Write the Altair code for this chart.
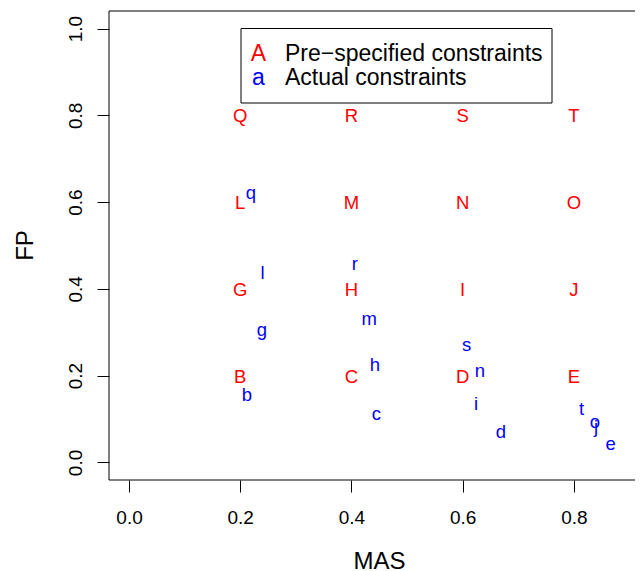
import altair as alt
import pandas as pd

# Pre-specified constraints (red, uppercase)
pre_labels = ["B", "C", "D", "E", "G", "H", "I", "J", "L", "M", "N", "O", "Q", "R", "S", "T"]
pre_mas = [0.2, 0.4, 0.6, 0.8, 0.2, 0.4, 0.6, 0.8, 0.2, 0.4, 0.6, 0.8, 0.2, 0.4, 0.6, 0.8]
pre_fp = [0.2, 0.2, 0.2, 0.2, 0.4, 0.4, 0.4, 0.4, 0.6, 0.6, 0.6, 0.6, 0.8, 0.8, 0.8, 0.8]

# Actual constraints (blue, lowercase)
act_labels = ["b", "c", "d", "e", "g", "h", "i", "j", "l", "m", "n", "o", "q", "r", "s", "t"]
act_mas = [0.212, 0.445, 0.669, 0.866, 0.239, 0.442, 0.624, 0.840, 0.240, 0.432, 0.631, 0.838, 0.219, 0.406, 0.607, 0.814]
act_fp = [0.157, 0.113, 0.072, 0.045, 0.307, 0.228, 0.136, 0.085, 0.440, 0.334, 0.214, 0.095, 0.624, 0.459, 0.274, 0.125]

x_ticks = [0.0, 0.2, 0.4, 0.6, 0.8]
y_ticks = [0.0, 0.2, 0.4, 0.6, 0.8, 1.0]

FONT = "Liberation Sans"
W, H = 526, 469

pre_df = pd.DataFrame({"MAS": pre_mas, "FP": pre_fp, "lab": pre_labels})
act_df = pd.DataFrame({"MAS": act_mas, "FP": act_fp, "lab": act_labels})

xscale = alt.Scale(domain=[-0.036, 0.910], nice=False, zero=False)
yscale = alt.Scale(domain=[-0.0405, 1.0405], nice=False, zero=False)

xaxis = alt.Axis(values=x_ticks, format=".1f", tickSize=12, tickColor="black", tickWidth=1,
                 labelPadding=31, labelBaseline="alphabetic", labelFontSize=19, labelFont=FONT,
                 labelColor="black", domain=False, grid=False, title="MAS", titleFont=FONT,
                 titleFontSize=24, titleFontWeight="normal", titleColor="black",
                 titleX=270, titleY=88, titleAlign="center", titleBaseline="alphabetic", titleAngle=0)
yaxis = alt.Axis(values=y_ticks, format=".1f", tickSize=12, tickColor="black", tickWidth=1,
                 labelPadding=16, labelAngle=270, labelAlign="center", labelBaseline="alphabetic",
                 labelFontSize=19, labelFont=FONT, labelColor="black", domain=False, grid=False,
                 title="FP", titleFont=FONT, titleFontSize=24, titleFontWeight="normal",
                 titleColor="black", titleX=-77, titleY=234, titleAlign="center",
                 titleBaseline="alphabetic", titleAngle=270)

pre = alt.Chart(pre_df).mark_text(font=FONT, fontSize=18.5, color="#FF0000", align="center",
                                  baseline="alphabetic", dy=7).encode(
    x=alt.X("MAS:Q", scale=xscale, axis=xaxis),
    y=alt.Y("FP:Q", scale=yscale, axis=yaxis),
    text="lab:N",
)
act = alt.Chart(act_df).mark_text(font=FONT, fontSize=18.5, color="#0000FF", align="center",
                                  baseline="alphabetic", dy=7).encode(
    x=alt.X("MAS:Q", scale=xscale),
    y=alt.Y("FP:Q", scale=yscale),
    text="lab:N",
)

blank = alt.Data(values=[{}])
box_left = alt.Chart(blank).mark_rule(color="black", strokeWidth=1).encode(
    x=alt.value(0), y=alt.value(0), y2=alt.value(H))
box_top = alt.Chart(blank).mark_rule(color="black", strokeWidth=1).encode(
    x=alt.value(0), x2=alt.value(W), y=alt.value(0))
box_bottom = alt.Chart(blank).mark_rule(color="black", strokeWidth=1).encode(
    x=alt.value(0), x2=alt.value(W), y=alt.value(H))

LEG_FS = 23
leg_box = alt.Chart(blank).mark_rect(fill="white", stroke="black", strokeWidth=1).encode(
    x=alt.value(132), x2=alt.value(443), y=alt.value(17.5), y2=alt.value(92))
leg_sym1 = alt.Chart(blank).mark_text(font=FONT, fontSize=LEG_FS, color="#FF0000", align="center",
                                      baseline="alphabetic").encode(
    x=alt.value(149.3), y=alt.value(50.3), text=alt.value("A"))
leg_sym2 = alt.Chart(blank).mark_text(font=FONT, fontSize=LEG_FS, color="#0000FF", align="center",
                                      baseline="alphabetic").encode(
    x=alt.value(149.3), y=alt.value(73.6), text=alt.value("a"))
leg_t1 = alt.Chart(blank).mark_text(font=FONT, fontSize=LEG_FS, color="black", align="left",
                                    baseline="alphabetic").encode(
    x=alt.value(176), y=alt.value(50.3), text=alt.value("Pre\u2212specified constraints"))
leg_t2 = alt.Chart(blank).mark_text(font=FONT, fontSize=LEG_FS, color="black", align="left",
                                    baseline="alphabetic").encode(
    x=alt.value(176), y=alt.value(73.6), text=alt.value("Actual constraints"))

chart = alt.layer(
    box_left, box_top, box_bottom, leg_box, leg_sym1, leg_sym2, leg_t1, leg_t2, pre, act
).properties(
    width=W, height=H,
    autosize=alt.AutoSizeParams(type="none"),
    padding={"left": 101, "top": 3, "right": 0, "bottom": 89},
    background="white",
).configure_view(stroke=None)

chart.save("out.html", embed_options={"renderer": "svg", "actions": False})
